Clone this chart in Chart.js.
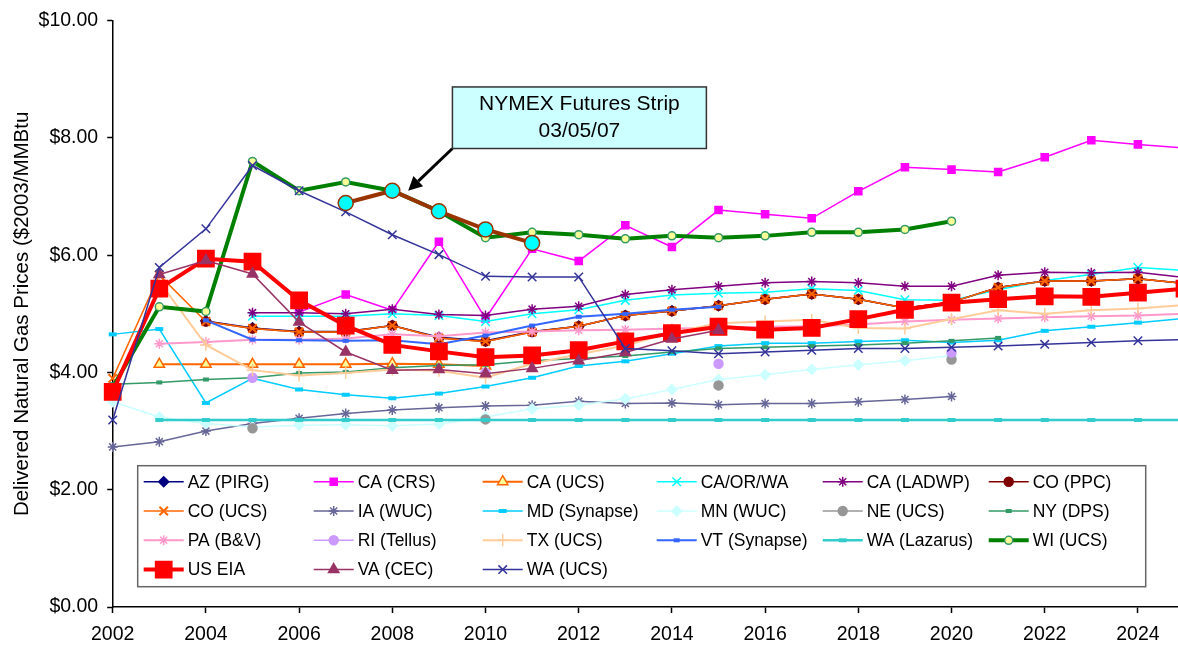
<!DOCTYPE html>
<html>
<head>
<meta charset="utf-8">
<script src="https://cdn.jsdelivr.net/npm/chart.js@4/dist/chart.umd.min.js"></script>
<style>
  html, body { margin: 0; padding: 0; background: #fff; overflow: hidden; }
  #wrap { width: 1178px; height: 646px; position: relative; }
  #wrap canvas { display: block; }
</style>
</head>
<body>
<div id="wrap"><canvas id="gas"></canvas></div>
<script>
const _ = null;
const years = [2002, 2003, 2004, 2005, 2006, 2007, 2008, 2009, 2010, 2011, 2012, 2013,
               2014, 2015, 2016, 2017, 2018, 2019, 2020, 2021, 2022, 2023, 2024, 2025];

// values in $2003/MMBtu, one per year above (null = no value)
const azPirg    = [_, _, 4.88, 4.76, 4.70, 4.70, 4.80, 4.60, 4.54, 4.70, 4.79, 4.97, 5.05, 5.14, 5.25, 5.34, 5.25, 5.10, 5.20, 5.45, 5.56, 5.56, 5.60, 5.52];
const caCrs     = [_, _, _, _, 5.03, 5.33, 5.06, 6.23, 4.92, 6.11, 5.90, 6.51, 6.14, 6.77, 6.70, 6.63, 7.09, 7.50, 7.46, 7.42, 7.67, 7.96, 7.89, 7.83];
const caUcs     = [_, 4.14, 4.14, 4.14, 4.14, 4.14, 4.15, 4.14, 4.11, _, _, _, _, _, _, _, _, _, _, _, _, _, _, _];
const caOrWa    = [_, _, _, 4.96, 4.96, 4.96, 5.00, 4.97, 4.87, 5.00, 5.07, 5.23, 5.32, 5.35, 5.37, 5.43, 5.40, 5.24, 5.23, 5.41, 5.57, 5.67, 5.79, 5.74];
const caLadwp   = [_, _, _, 5.02, 5.02, 5.00, 5.08, 4.99, 4.97, 5.08, 5.13, 5.33, 5.41, 5.47, 5.53, 5.55, 5.53, 5.47, 5.47, 5.66, 5.71, 5.70, 5.71, 5.62];
const coPpc     = [_, _, 4.87, 4.75, 4.69, 4.69, 4.80, 4.59, 4.53, 4.69, 4.79, 4.97, 5.05, 5.14, 5.25, 5.34, 5.25, 5.10, 5.20, 5.45, 5.56, 5.56, 5.60, 5.52];
const coUcs     = [3.90, 5.66, 4.87, 4.75, 4.69, 4.69, 4.80, 4.59, 4.53, 4.69, 4.79, 4.97, 5.05, 5.14, 5.25, 5.34, 5.25, 5.10, 5.20, 5.45, 5.56, 5.56, 5.60, 5.52];
const iaWuc     = [2.73, 2.82, 3.00, 3.13, 3.22, 3.30, 3.36, 3.40, 3.43, 3.44, 3.51, 3.47, 3.48, 3.45, 3.47, 3.47, 3.50, 3.54, 3.59, _, _, _, _, _];
const mdSynapse = [4.65, 4.74, 3.48, 3.90, 3.71, 3.62, 3.56, 3.64, 3.76, 3.91, 4.11, 4.19, 4.32, 4.45, 4.50, 4.50, 4.53, 4.55, 4.51, 4.55, 4.71, 4.78, 4.85, 4.92];
const mnWuc     = [3.50, 3.24, 3.13, 3.07, 3.10, 3.11, 3.09, 3.12, 3.24, 3.38, 3.44, 3.55, 3.71, 3.88, 3.96, 4.05, 4.13, 4.20, 4.29, _, _, _, _, _];
const neUcs     = [_, _, _, 3.05, _, _, _, _, 3.20, _, _, _, _, 3.78, _, _, _, _, 4.22, _, _, _, _, _];
const nyDps     = [3.80, 3.83, 3.88, 3.91, 3.99, 4.01, 4.08, 4.12, 4.13, 4.20, 4.24, 4.28, 4.35, 4.41, 4.43, 4.45, 4.47, 4.50, 4.54, 4.59, _, _, _, _];
const paBv      = [_, 4.49, 4.52, 4.56, 4.56, 4.58, 4.65, 4.62, 4.68, 4.70, 4.72, 4.73, 4.75, 4.76, 4.78, 4.79, 4.82, 4.87, 4.90, 4.92, 4.94, 4.96, 4.97, 5.00];
const riTellus  = [_, _, _, 3.91, _, _, _, _, 4.00, _, _, _, _, 4.15, _, _, _, _, 4.34, _, _, _, _, _];
const txUcs     = [_, 5.55, 4.47, 4.04, 3.95, 3.99, 4.05, 4.03, 3.91, 4.15, 4.31, 4.46, 4.68, 4.84, 4.87, 4.90, 4.76, 4.75, 4.91, 5.06, 5.00, 5.06, 5.09, 5.15];
const vtSynapse = [_, _, 4.89, 4.56, 4.55, 4.54, 4.55, 4.48, 4.63, 4.80, 4.95, 5.00, 5.07, 5.12, _, _, _, _, _, _, _, _, _, _];
const waLazarus = [_, 3.19, 3.19, 3.19, 3.19, 3.19, 3.19, 3.19, 3.19, 3.19, 3.19, 3.19, 3.19, 3.19, 3.19, 3.19, 3.19, 3.19, 3.19, 3.19, 3.19, 3.19, 3.19, 3.19];
const wiUcs     = [3.75, 5.12, 5.04, 7.60, 7.10, 7.25, 7.10, 6.75, 6.30, 6.39, 6.35, 6.28, 6.33, 6.30, 6.33, 6.39, 6.39, 6.44, 6.58, _, _, _, _, _];
const usEia     = [3.67, 5.43, 5.94, 5.89, 5.23, 4.80, 4.47, 4.36, 4.26, 4.29, 4.38, 4.53, 4.67, 4.78, 4.73, 4.76, 4.91, 5.07, 5.19, 5.25, 5.30, 5.29, 5.36, 5.43];
const vaCec     = [_, 5.67, 5.91, 5.68, 4.86, 4.35, 4.04, 4.05, 3.98, 4.07, 4.20, 4.34, 4.57, 4.72, _, _, _, _, _, _, _, _, _, _];
const waUcs     = [3.19, 5.79, 6.45, 7.53, 7.10, 6.74, 6.35, 6.01, 5.64, 5.63, 5.63, 4.41, 4.37, 4.32, 4.35, 4.38, 4.41, 4.41, 4.43, 4.45, 4.48, 4.51, 4.54, 4.56];
const nymex     = [_, _, _, _, _, 6.89, 7.10, 6.75, 6.44, 6.21, _, _, _, _, _, _, _, _, _, _, _, _, _, _];

const yTicks = [0, 2, 4, 6, 8, 10];
const xTicks = [2002, 2004, 2006, 2008, 2010, 2012, 2014, 2016, 2018, 2020, 2022, 2024];

const FONT = '"Liberation Sans", Arial, sans-serif';

function series(label, values, color, opts) {
  return Object.assign({
    label: label,
    data: years.map((x, i) => ({ x: x, y: values[i] })),
    borderColor: color,
    backgroundColor: color,
    borderWidth: 1.5,
    pointStyle: 'circle',
    pointRadius: 4,
    pointBorderWidth: 1.5,
    pointBackgroundColor: color,
    pointBorderColor: color,
    spanGaps: false,
    clip: false
  }, opts || {});
}

const datasets = [
  series('AZ (PIRG)', azPirg, '#000080', { pointStyle: 'rectRot', pointRadius: 5 }),
  series('CA (CRS)', caCrs, '#FF00FF', { pointStyle: 'rect', pointRadius: 5 }),
  series('CA (UCS)', caUcs, '#FF6600', { pointStyle: 'triangle', pointRadius: 6, borderWidth: 2, pointBackgroundColor: '#FFFF99' }),
  series('CA/OR/WA', caOrWa, '#00FFFF', { pointStyle: 'crossRot', pointRadius: 6 }),
  series('CA (LADWP)', caLadwp, '#800080', { pointStyle: 'star', pointRadius: 5 }),
  series('CO (PPC)', coPpc, '#800000', { pointStyle: 'circle', pointRadius: 4.5 }),
  series('CO (UCS)', coUcs, '#FF6600', { pointStyle: 'crossRot', pointRadius: 6, pointBorderWidth: 2 }),
  series('IA (WUC)', iaWuc, '#666699', { pointStyle: 'star', pointRadius: 5 }),
  series('MD (Synapse)', mdSynapse, '#00CCFF', { pointStyle: 'line', pointRadius: 4, pointBorderWidth: 4 }),
  series('MN (WUC)', mnWuc, '#CCFFFF', { pointStyle: 'rectRot', pointRadius: 5 }),
  series('NE (UCS)', neUcs, '#969696', { pointStyle: 'circle', pointRadius: 4.5 }),
  series('NY (DPS)', nyDps, '#339966', { pointStyle: 'line', pointRadius: 3, pointBorderWidth: 4 }),
  series('PA (B&V)', paBv, '#FF99CC', { pointStyle: 'star', pointRadius: 5, borderWidth: 2 }),
  series('RI (Tellus)', riTellus, '#CC99FF', { pointStyle: 'circle', pointRadius: 4.5 }),
  series('TX (UCS)', txUcs, '#FFCC99', { pointStyle: 'cross', pointRadius: 6, borderWidth: 2 }),
  series('VT (Synapse)', vtSynapse, '#3366FF', { pointStyle: 'line', pointRadius: 3, pointBorderWidth: 4, borderWidth: 2 }),
  series('WA (Lazarus)', waLazarus, '#33CCCC', { pointStyle: 'line', pointRadius: 4, pointBorderWidth: 4, borderWidth: 2.5 }),
  series('WI (UCS)', wiUcs, '#008000', { pointStyle: 'circle', pointRadius: 4, borderWidth: 4, pointBackgroundColor: '#FFFF99', pointBorderColor: '#339966' }),
  series('US EIA', usEia, '#FF0000', { pointStyle: 'rect', pointRadius: 11.5, borderWidth: 4 }),
  series('VA (CEC)', vaCec, '#993366', { pointStyle: 'triangle', pointRadius: 6 }),
  series('WA (UCS)', waUcs, '#333399', { pointStyle: 'crossRot', pointRadius: 6 }),
  series('NYMEX Futures Strip', nymex, '#993300', { pointStyle: 'circle', pointRadius: 7.5, borderWidth: 4, pointBackgroundColor: '#00FFFF', pointBorderColor: '#993300' })
];
// later series are drawn on top, NYMEX strip on top of all
datasets.forEach((d, i) => { d.order = i === datasets.length - 1 ? 0 : 100 - i; });

const note = { lines: ['NYMEX Futures Strip', '03/05/07'], x0: 2009.29, x1: 2014.74, yTop: 8.87, yBot: 7.82, tipX: 2008.34, tipY: 7.10 };

function drawMarker(ctx, ds, x, y) {
  ctx.fillStyle = ds.pointBackgroundColor;
  ctx.strokeStyle = ds.pointBorderColor;
  ctx.lineWidth = ds.pointBorderWidth;
  Chart.helpers.drawPoint(ctx, { pointStyle: ds.pointStyle, radius: ds.pointRadius, borderWidth: ds.pointBorderWidth, rotation: 0 }, x, y);
}

const boxLegend = {
  id: 'boxLegend',
  afterDraw(chart) {
    const ctx = chart.ctx, a = chart.chartArea;
    const left = a.left + 25, top = a.top + 445, w = 1008, h = 121;
    const colX = [6, 176, 345, 519, 685, 851];
    ctx.save();
    ctx.fillStyle = '#fff';
    ctx.fillRect(left, top, w, h);
    ctx.strokeStyle = '#666';
    ctx.lineWidth = 1.5;
    ctx.strokeRect(left, top, w, h);
    ctx.font = '17.5px ' + FONT;
    ctx.textBaseline = 'middle';
    chart.data.datasets.slice(0, 21).forEach((ds, i) => {
      const x = left + colX[i % 6];
      const y = top + 16 + Math.floor(i / 6) * 29.3;
      ctx.strokeStyle = ds.borderColor;
      ctx.lineWidth = ds.borderWidth;
      ctx.beginPath();
      ctx.moveTo(x, y);
      ctx.lineTo(x + 40, y);
      ctx.stroke();
      drawMarker(ctx, ds, x + 20, y);
      ctx.fillStyle = '#000';
      ctx.fillText(ds.label, x + 44, y + 1);
    });
    ctx.restore();
  }
};

const noteBox = {
  id: 'noteBox',
  afterDatasetsDraw(chart) {
    const ctx = chart.ctx, sx = chart.scales.x, sy = chart.scales.y;
    const l = sx.getPixelForValue(note.x0), r = sx.getPixelForValue(note.x1);
    const t = sy.getPixelForValue(note.yTop), b = sy.getPixelForValue(note.yBot);
    const tx = sx.getPixelForValue(note.tipX), ty = sy.getPixelForValue(note.tipY);
    ctx.save();
    // arrow from the box corner to the strip
    const ang = Math.atan2(ty - b, tx - l);
    const hx = tx - Math.cos(ang) * 14, hy = ty - Math.sin(ang) * 14;
    ctx.strokeStyle = '#000';
    ctx.lineWidth = 3;
    ctx.beginPath();
    ctx.moveTo(l, b);
    ctx.lineTo(hx, hy);
    ctx.stroke();
    ctx.fillStyle = '#000';
    ctx.beginPath();
    ctx.moveTo(tx, ty);
    ctx.lineTo(hx + Math.sin(ang) * 7, hy - Math.cos(ang) * 7);
    ctx.lineTo(hx - Math.sin(ang) * 7, hy + Math.cos(ang) * 7);
    ctx.closePath();
    ctx.fill();
    // box
    ctx.fillStyle = '#CCFFFF';
    ctx.fillRect(l, t, r - l, b - t);
    ctx.strokeStyle = '#333';
    ctx.lineWidth = 1.5;
    ctx.strokeRect(l, t, r - l, b - t);
    ctx.fillStyle = '#000';
    ctx.font = '21px ' + FONT;
    ctx.textAlign = 'center';
    ctx.textBaseline = 'middle';
    const cx = (l + r) / 2, lh = (b - t) / 2.3;
    ctx.fillText(note.lines[0], cx, t + (b - t) / 2 - lh / 2);
    ctx.fillText(note.lines[1], cx, t + (b - t) / 2 + lh / 2);
    ctx.restore();
  }
};

new Chart(document.getElementById('gas'), {
  type: 'line',
  data: { datasets: datasets },
  plugins: [noteBox, boxLegend],
  options: {
    responsive: true,
    maintainAspectRatio: false,
    animation: false,
    events: [],
    layout: { autoPadding: false, padding: { top: 20, right: 0, bottom: 0, left: 0 } },
    plugins: { legend: { display: false }, tooltip: { enabled: false } },
    scales: {
      x: {
        type: 'linear',
        min: 2002,
        max: 2024.86,
        afterBuildTicks: s => { s.ticks = xTicks.map(v => ({ value: v })); },
        afterFit: s => { s.height = 39; s.paddingLeft = 0; s.paddingRight = 0; },
        ticks: { color: '#000', font: { family: FONT, size: 19.5 }, padding: 10, maxRotation: 0, autoSkip: false, callback: v => String(v) },
        grid: { drawOnChartArea: false, color: '#000', tickLength: 6, tickWidth: 1.5 },
        border: { color: '#000', width: 1.5 }
      },
      y: {
        min: 0,
        max: 10,
        afterBuildTicks: s => { s.ticks = yTicks.map(v => ({ value: v })); },
        afterFit: s => { s.width = 112.7; },
        ticks: { color: '#000', font: { family: FONT, size: 19.5 }, padding: 9, callback: v => '$' + v.toFixed(2) },
        grid: { drawOnChartArea: false, color: '#000', tickLength: 5.5, tickWidth: 1.5 },
        border: { color: '#000', width: 1.5 },
        title: { display: true, text: 'Delivered Natural Gas Prices ($2003/MMBtu', color: '#000', font: { family: FONT, size: 20.5 }, padding: { top: 10, bottom: 0 } }
      }
    }
  }
});
</script>
</body>
</html>
